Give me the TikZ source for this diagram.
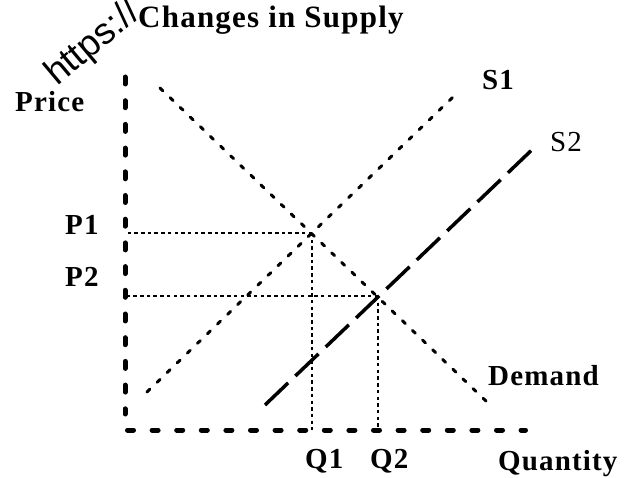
\documentclass[tikz,border=0pt]{standalone}
\usepackage{fontspec}
\setmainfont{Liberation Serif}
\newfontfamily\lblfont{Liberation Serif}[LetterSpace=4]
\newfontfamily\wmfont{Liberation Sans}
\usetikzlibrary{positioning}

\begin{document}
\begin{tikzpicture}[x=1pt, y=-1pt, inner sep=0pt,
  lbl/.style={anchor=base west, font=\lblfont\bfseries\fontsize{29}{32}\selectfont},
  axis/.style={line width=5pt, line cap=round},
  curveS/.style={line width=3pt, line cap=round, dash pattern=on 4pt off 10pt},
  curveL/.style={line width=3.5pt, dash pattern=on 32pt off 10pt},
  guide/.style={line width=1.4pt, dash pattern=on 3.5pt off 3.2pt}]
  \useasboundingbox (0,0) rectangle (624,478);
  % watermark
  \node[anchor=base west, rotate=40, font=\wmfont\fontsize{37}{37}\selectfont] (wm) at (57,87) {https://};
  \node[lbl, fill=white, inner sep=1pt, font=\lblfont\bfseries\fontsize{31}{34}\selectfont] (title) at (137,28) {Changes in Supply};
  % axes
  \coordinate (O) at (125,430);
  \coordinate (ytop) at (125,77);
  \coordinate (ybot) at (125,414);
  \coordinate (xbeg) at (127.5,430);
  \coordinate (xend) at (525.5,430);
  \draw[axis, dash pattern=on 7pt off 16.7pt] (ytop) -- (ybot);
  \draw[axis, dash pattern=on 6pt off 18.6pt] (xbeg) -- (xend);
  % curves
  \coordinate (D1) at (160,88);
  \coordinate (D2) at (487,402);
  \coordinate (S1a) at (147,392);
  \coordinate (S1b) at (453,97);
  \coordinate (S2a) at (265,405);
  \coordinate (S2b) at (537,145);
  \draw[curveS] (D1) -- (D2);
  \draw[curveS] (S1a) -- (S1b);
  \draw[curveL] (S2a) -- (S2b);
  % equilibria
  \coordinate (E1) at (312,233);
  \coordinate (E2) at (378,296);
  \draw[guide] (E1) -- (E1 -| O);
  \draw[guide] (E1) -- (E1 |- O);
  \draw[guide] (E2) -- (E2 -| O);
  \draw[guide] (E2) -- (E2 |- O);
  % labels
  \node[lbl] (price) at (15,112) {Price};
  \node[lbl] (p1) at (65,235) {P1};
  \node[lbl] (p2) at (65,287) {P2};
  \node[lbl] (q1) at (305,468) {Q1};
  \node[lbl] (q2) at (370,468) {Q2};
  \node[lbl] (qty) at (498,470) {Quantity};
  \node[lbl] (dem) at (488,385) {Demand};
  \node[lbl] (s1) at (482,90) {S1};
  \node[lbl, font=\lblfont\fontsize{29}{32}\selectfont] (s2) at (550,152) {S2};
\end{tikzpicture}
\end{document}
